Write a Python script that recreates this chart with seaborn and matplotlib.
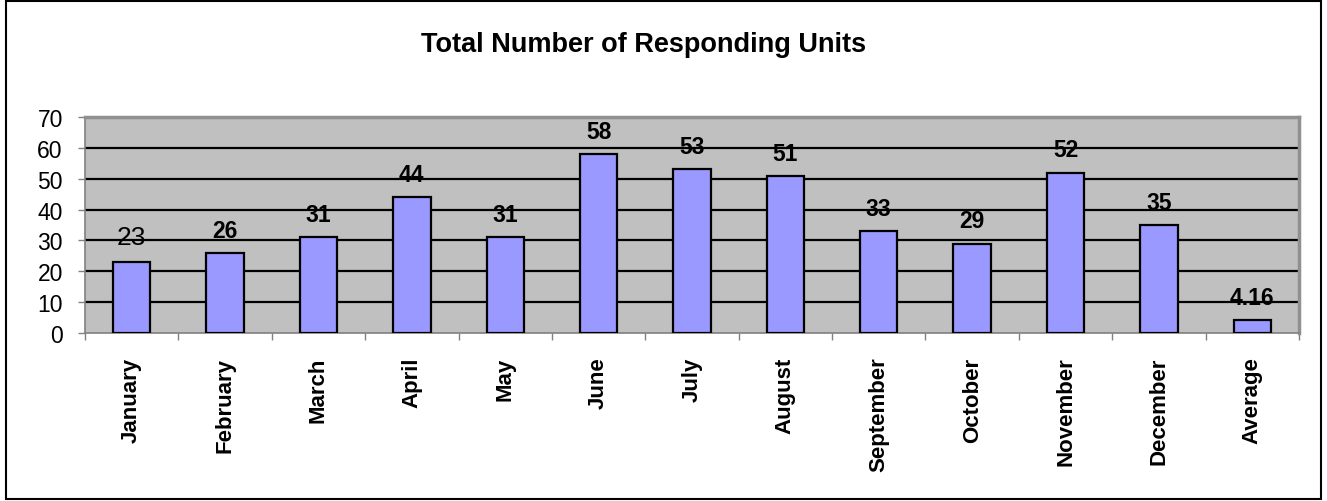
import matplotlib
matplotlib.use("Agg")
import matplotlib.pyplot as plt
import seaborn as sns
import pandas as pd
from matplotlib.patches import Rectangle

categories = ["January", "February", "March", "April", "May", "June", "July",
              "August", "September", "October", "November", "December", "Average"]
values = [23, 26, 31, 44, 31, 58, 53, 51, 33, 29, 52, 35, 4.16]
value_labels = ["23", "26", "31", "44", "31", "58", "53", "51", "33", "29", "52", "35", "4.16"]
yticks = [0, 10, 20, 30, 40, 50, 60, 70]

sns.set_theme(style="white")
plt.rcParams["font.family"] = ["Liberation Sans", "DejaVu Sans"]
plt.rcParams["text.color"] = "black"
plt.rcParams["xtick.color"] = "black"
plt.rcParams["ytick.color"] = "black"

df = pd.DataFrame({"month": categories, "count": values})

fig = plt.figure(figsize=(13.27, 5.02), dpi=100)
ax = fig.add_axes([85 / 1327, 1 - 334 / 502, (1299 - 85) / 1327, (334 - 118) / 502])

sns.barplot(data=df, x="month", y="count", color="#9999FF", width=0.4,
            edgecolor="black", linewidth=1.6, saturation=1, ax=ax, zorder=3)

ax.set_facecolor("#C0C0C0")
ax.set_ylim(0, 70)
ax.set_xlim(-0.5, len(categories) - 0.5)
ax.set_yticks(yticks)
ax.set_yticklabels([str(t) for t in yticks], fontsize=16.5)
for t in yticks[1:-1]:
    ax.axhline(t, color="black", linewidth=1.6, zorder=1)

ax.set_xticks(range(len(categories)))
ax.set_xticklabels(categories, rotation=90, fontsize=16, fontweight="bold")
ax.tick_params(axis="x", which="major", bottom=True, length=0, pad=17)
# category boundary tick marks
ax.set_xticks([i - 0.5 for i in range(len(categories) + 1)], minor=True)
ax.tick_params(axis="x", which="minor", bottom=True, length=5, width=1,
               color="#808080", direction="out")
ax.tick_params(axis="y", left=True, length=5, width=1, color="#808080",
               direction="out", pad=11)
ax.set_xlabel("")
ax.set_ylabel("")

for sp in ["left", "bottom"]:
    ax.spines[sp].set_color("#808080")
    ax.spines[sp].set_linewidth(1.2)
for sp in ["top", "right"]:
    ax.spines[sp].set_color("#909090")
    ax.spines[sp].set_linewidth(2.5)

for i, (v, lab) in enumerate(zip(values, value_labels)):
    if i == 0:
        ax.annotate(lab, (i, v), xytext=(0, 9.5), textcoords="offset points",
                    ha="center", va="bottom", fontsize=19, zorder=5)
    else:
        ax.annotate(lab, (i, v), xytext=(0, 8), textcoords="offset points",
                    ha="center", va="bottom", fontsize=16.5, fontweight="bold", zorder=5)

fig.text(644 / 1327, 1 - 45 / 502, "Total Number of Responding Units", ha="center", va="center",
         fontsize=19.5, fontweight="bold")

fig.patches.append(Rectangle((6 / 1327, 2 / 502), 1 - 12 / 1327, 1 - 4 / 502,
                             transform=fig.transFigure, fill=False,
                             edgecolor="black", linewidth=1.5))

fig.savefig("out.png", dpi=100, facecolor="white")
